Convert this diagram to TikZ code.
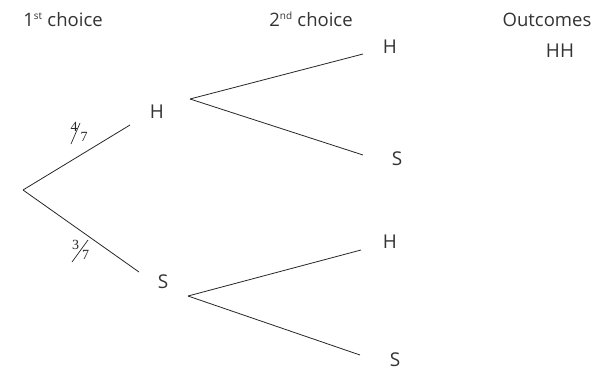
\documentclass[tikz,border=0pt]{standalone}
\usepackage{fontspec}
\setmainfont{Open Sans}
\newfontfamily\fracfont{Liberation Serif}
\begin{document}
\begin{tikzpicture}[x=1pt,y=-1pt,
  lbl/.style={text=black!80, font=\fontsize{19}{21}\selectfont, inner sep=0pt},
  hdr/.style={text=black!80, font=\fontsize{18.5}{21}\selectfont, inner sep=0pt, anchor=base},
  fr/.style={text=black!85, font=\fracfont\fontsize{14}{14}\selectfont, inner sep=0pt},
  br/.style={draw=black!85, line width=0.8pt}]
\useasboundingbox (0,0) rectangle (612,372);
% headers
\node[hdr] (h1) at (63,26) {1\textsuperscript{\fontsize{10}{10}\selectfont st} choice};
\node[hdr] (h2) at (311,26) {2\textsuperscript{\fontsize{10}{10}\selectfont nd} choice};
\node[hdr] (h3) at (547,26) {Outcomes};
\node[lbl] (hh) at (560,51) {HH};
% labels
\node[lbl] (H1) at (157,112) {H};
\node[lbl] (S1) at (163,282) {S};
\node[lbl] (HH2) at (390,47) {H};
\node[lbl] (HS2) at (397,159) {S};
\node[lbl] (SH2) at (390,242) {H};
\node[lbl] (SS2) at (395,360) {S};
% coordinates
\coordinate (root) at (23,190);
\coordinate (aH1) at (130,125);
\coordinate (aS1) at (139,272);
\coordinate (oH1) at (190,99);
\coordinate (oS1) at (188,296);
\coordinate (eHH) at (363,54);
\coordinate (eHS) at (363,155);
\coordinate (eSH) at (361,250);
\coordinate (eSS) at (360,355);
% branches
\draw[br] (root) -- (aH1);
\draw[br] (root) -- (aS1);
\draw[br] (oH1) -- (eHH);
\draw[br] (oH1) -- (eHS);
\draw[br] (oS1) -- (eSH);
\draw[br] (oS1) -- (eSS);
% fractions
\node[fr] (f4) at (74,126.5) {4};
\node[fr] (f7a) at (84,137) {7};
\coordinate (s1a) at (71,144);
\coordinate (s1b) at (80,123);
\draw[br, line width=0.7pt] (s1a) -- (s1b);
\node[fr] (f3) at (75.5,245) {3};
\node[fr] (f7b) at (85.5,255) {7};
\coordinate (s2a) at (72,262);
\coordinate (s2b) at (88,240);
\draw[br, line width=0.7pt] (s2a) -- (s2b);
\end{tikzpicture}
\end{document}
